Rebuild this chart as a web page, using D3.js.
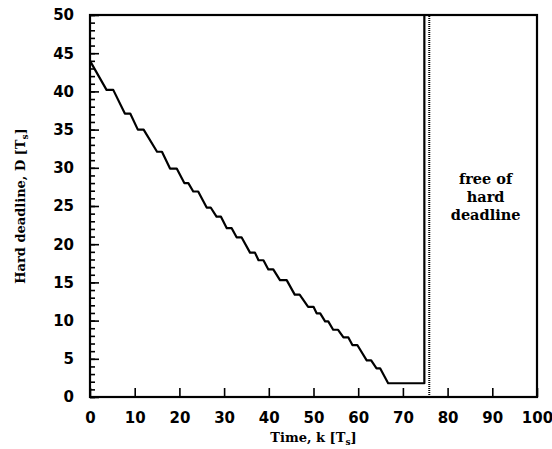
<!DOCTYPE html>
<html>
<head>
<script src="https://d3js.org/d3.v7.min.js"></script>
<style>
body { margin: 0; background: #fff; }
.tick text { font-family: "DejaVu Sans", sans-serif; font-weight: bold; font-size: 15px; }
.lbl { font-family: "DejaVu Serif", serif; font-weight: bold; font-size: 13px; }
</style>
</head>
<body>
<svg class="chart"></svg>
<script>
// deadline curve (k, D)
var timeK = [0, 3.7, 5.2, 7.8, 9, 10.7, 12, 15, 16.1, 17.9, 19.4, 21.1, 22, 23.1, 24.2, 26.1, 27,
  28.3, 29.3, 30.6, 31.7, 32.8, 33.9, 35.8, 36.9, 37.7, 38.8, 39.9, 41, 42.5, 44, 45.8, 46.9,
  48.8, 50, 50.7, 51.5, 52.6, 53.3, 54.4, 55.5, 56.7, 57.8, 58.7, 59.8, 61.9, 62.9, 64.1, 64.9,
  66.7, 74.8, 74.8];
var deadlineD = [44, 40.2, 40.2, 37.1, 37.1, 35, 35, 32.1, 32.1, 29.9, 29.9, 28, 28, 26.9, 26.9, 24.8, 24.8,
  23.6, 23.6, 22.1, 22.1, 20.9, 20.9, 18.9, 18.9, 17.9, 17.9, 16.7, 16.7, 15.3, 15.3, 13.4, 13.4,
  11.8, 11.8, 10.95, 10.95, 9.9, 9.9, 8.8, 8.8, 7.8, 7.8, 6.8, 6.8, 4.8, 4.8, 3.75, 3.75,
  1.8, 1.8, 50];
var boundaryK = 75.9;   // dotted line
var xTicks = [0, 10, 20, 30, 40, 50, 60, 70, 80, 90, 100];
var yTicks = [0, 5, 10, 15, 20, 25, 30, 35, 40, 45, 50];
var noteLines = ["free of", "hard", "deadline"];

var W = 552, H = 449;
var margin = {top: 15, right: 15, bottom: 52, left: 90};
var width = W - margin.left - margin.right;
var height = H - margin.top - margin.bottom;

var svg = d3.select(".chart").attr("width", W).attr("height", H);
var chart = svg.append("g").attr("transform", "translate(" + margin.left + "," + margin.top + ")");

var x = d3.scaleLinear().domain([0, 100]).range([0, width]);
var y = d3.scaleLinear().domain([0, 50]).range([height, 0]);

// minor y ticks every 1
chart.append("g")
  .call(d3.axisRight(y).tickValues(d3.range(0, 51)).tickSize(5).tickFormat(""))
  .call(function(g){ g.select(".domain").remove(); })
  .selectAll("line").attr("stroke-width", 1.6);

// major y ticks
chart.append("g")
  .call(d3.axisLeft(y).tickValues(yTicks).tickSize(-9).tickPadding(16))
  .call(function(g){ g.select(".domain").remove(); })
  .call(function(g){ g.selectAll("line").attr("stroke-width", 1.6); })
  .selectAll("text").attr("fill", "#000");

// x ticks
chart.append("g")
  .attr("transform", "translate(0," + height + ")")
  .call(d3.axisBottom(x).tickValues(xTicks).tickSize(-9).tickPadding(15))
  .call(function(g){ g.select(".domain").remove(); })
  .call(function(g){ g.selectAll("line").attr("stroke-width", 1.6); })
  .selectAll("text").attr("fill", "#000");

// frame
chart.append("rect")
  .attr("x", 0).attr("y", 0).attr("width", width).attr("height", height)
  .attr("fill", "none").attr("stroke", "#000").attr("stroke-width", 2.2);

// dotted boundary
chart.append("line")
  .attr("x1", x(boundaryK)).attr("x2", x(boundaryK))
  .attr("y1", y(0)).attr("y2", y(50))
  .attr("stroke", "#000").attr("stroke-width", 2).attr("stroke-dasharray", "1,1");

// deadline curve
var pts = timeK.map(function(k, i){ return [k, deadlineD[i]]; });
chart.append("path")
  .datum(pts)
  .attr("fill", "none").attr("stroke", "#000").attr("stroke-width", 2.2)
  .attr("stroke-linejoin", "round")
  .attr("d", d3.line().x(function(d){ return x(d[0]); }).y(function(d){ return y(d[1]); }));

// note
var note = chart.append("text").attr("class", "lbl").attr("text-anchor", "middle")
  .style("font-size", "14.5px");
noteLines.forEach(function(t, i){
  note.append("tspan").attr("x", x(88.5)).attr("y", 169 + i * 18).text(t);
});

// axis labels
var xl = svg.append("text").attr("class", "lbl").attr("text-anchor", "middle")
  .attr("x", margin.left + width / 2).attr("y", 442);
xl.append("tspan").text("Time, k [T");
xl.append("tspan").attr("font-size", "9px").attr("dy", 3).text("s");
xl.append("tspan").attr("dy", -3).text("]");

var yl = svg.append("text").attr("class", "lbl").attr("text-anchor", "middle")
  .attr("transform", "translate(25," + (margin.top + height / 2) + ") rotate(-90)");
yl.append("tspan").text("Hard deadline, D [T");
yl.append("tspan").attr("font-size", "9px").attr("dy", 3).text("s");
yl.append("tspan").attr("dy", -3).text("]");
</script>
</body>
</html>
